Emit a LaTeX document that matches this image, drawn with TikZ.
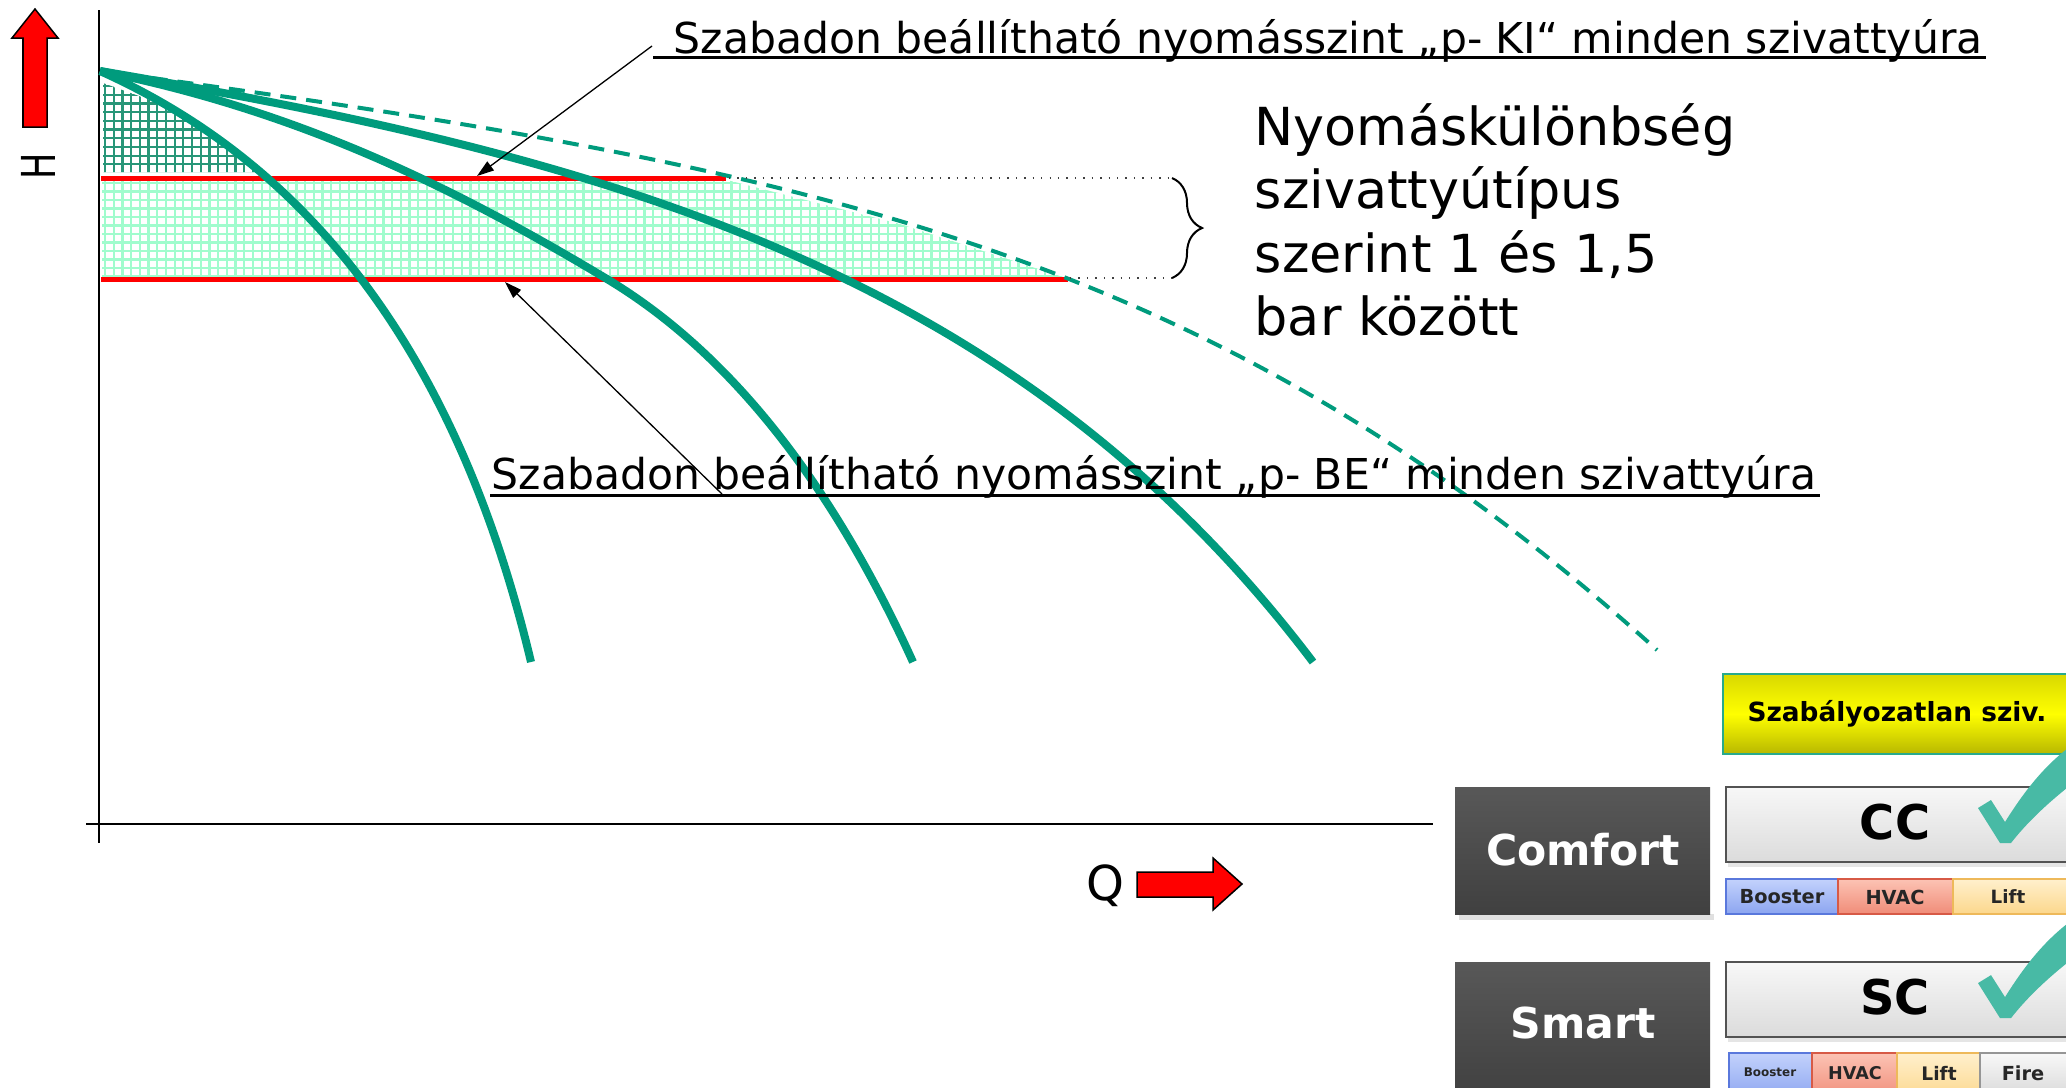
\documentclass[tikz,border=0pt]{standalone}
\usepackage{fontspec}
\setmainfont{DejaVu Sans}
\usetikzlibrary{arrows.meta,decorations.pathreplacing}
\definecolor{pump}{RGB}{0,155,125}
\definecolor{mint}{RGB}{160,252,205}
\definecolor{hatchdark}{RGB}{40,150,120}
\definecolor{checkteal}{RGB}{72,186,165}
\definecolor{boxdark}{RGB}{64,64,64}
\definecolor{boxdarktop}{RGB}{88,88,88}
\definecolor{ybord}{RGB}{40,170,140}
\definecolor{boostA}{RGB}{195,210,252}
\definecolor{boostB}{RGB}{140,165,240}
\definecolor{boostE}{RGB}{90,120,220}
\definecolor{hvacA}{RGB}{252,195,180}
\definecolor{hvacB}{RGB}{240,140,120}
\definecolor{hvacE}{RGB}{215,90,70}
\definecolor{liftA}{RGB}{255,240,205}
\definecolor{liftB}{RGB}{252,215,140}
\definecolor{liftE}{RGB}{238,185,90}
\definecolor{fireA}{RGB}{248,248,248}
\definecolor{fireB}{RGB}{215,215,215}
\definecolor{fireE}{RGB}{150,150,150}
\tikzset{
  pumpcurve/.style={draw=pump, line width=0.08cm},
  envcurve/.style={draw=pump, line width=0.04cm, dash pattern=on 0.16cm off 0.1cm},
  redline/.style={draw=red, line width=0.05cm},
  axisline/.style={draw=black, line width=0.022cm},
  pointer/.style={draw=black, line width=0.013cm, -{Triangle[length=0.17cm,width=0.11cm]}},
  callout/.style={font=\fontsize{12.1}{14}\selectfont, anchor=base west, inner sep=0pt},
  bigtext/.style={font=\fontsize{14.9}{18}\selectfont, anchor=base west, inner sep=0pt},
  underline/.style={draw=black, line width=0.03cm},
  blockarrow/.style={fill=red, draw=black, line width=0.015cm},
  hatchlight/.style={draw=mint, line width=0.022cm},
  hatchdk/.style={draw=hatchdark, line width=0.022cm},
  darkbox/.style={top color=boxdarktop, bottom color=boxdark},
  lightbox/.style={top color=gray!6, bottom color=gray!28, draw=gray!65!black, line width=0.015cm},
  boxlabel/.style={font=\fontsize{12.1}{14}\selectfont\bfseries, text=white, inner sep=0pt},
  typelabel/.style={font=\fontsize{13.6}{16}\selectfont\bfseries, text=black, inner sep=0pt},
  barlabel/.style={text=black!85, inner sep=0pt},
  checkmark/.style={fill=checkteal},
}
\begin{document}
\begin{tikzpicture}[x=0.01cm,y=-0.01cm]
\useasboundingbox (0,0) rectangle (2066,1087);
\clip (0,0) rectangle (2066,1087);
\fill[white] (0,0) rectangle (2066,1087);

% light hatch between the pressure levels
\begin{scope}
  \clip (102,180) -- (727,180) -- (900,224) -- (1066,278) -- (102,278) -- cycle;
  \foreach \i in {0,...,112} \draw[hatchlight] ({105+8.7*\i},170) -- ({105+8.7*\i},290);
  \foreach \j in {0,...,12} \draw[hatchlight] (95,{183+8.5*\j}) -- (1080,{183+8.5*\j});
\end{scope}
% dark hatch
\begin{scope}
  \clip (103,83) -- (150,100) -- (207,133) -- (262,172) -- (103,172) -- cycle;
  \foreach \i in {0,...,19} \draw[hatchdk] ({105+8.7*\i},78) -- ({105+8.7*\i},176);
  \foreach \j in {0,...,11} \draw[hatchdk] (98,{86+8.7*\j}) -- (270,{86+8.7*\j});
\end{scope}

% axes
\draw[axisline] (99,10) -- (99,843);
\draw[axisline] (86,824) -- (1433,824);

% pressure levels
\draw[redline] (101,178) -- (726,178);
\draw[redline] (101,279) -- (1068,279);

% pump curves
\draw[pumpcurve] (100,71) .. controls (250,138.5) and (441,284) .. (531,662);
\draw[pumpcurve] (100,71) .. controls (300,111) and (457,189) .. (607,279) .. controls (757,369) and (853,530) .. (913,662);
\draw[pumpcurve] (100,71) .. controls (600,156) and (1013,266) .. (1313,662);
\draw[envcurve] (100,71) .. controls (800,165) and (1207,245) .. (1657,650);

% dotted extension lines and brace
\coordinate (dtA) at (729,178);
\coordinate (dtB) at (1070,278);
\coordinate (brTop) at (1172,178);
\coordinate (brBot) at (1172,278);
\draw[dotted, line width=0.014cm, black!75] (dtA) -- (brTop);
\draw[dotted, line width=0.014cm, black!75] (dtB) -- (brBot);
\draw[decorate, decoration={brace, amplitude=0.3cm}, line width=0.02cm] (brTop) -- (brBot);

% H and Q arrows
\draw[blockarrow] (35,9) -- (58,38) -- (47,38) -- (47,127) -- (23,127) -- (23,38) -- (12,38) -- cycle;
\node[rotate=90, font=\fontsize{13.3}{16}\selectfont, inner sep=0pt] (hlabel) at (38,166) {\scalebox{0.75}[1]{H}};
\draw[blockarrow] (1137,872) -- (1213,872) -- (1213,858) -- (1242,884) -- (1213,910) -- (1213,897) -- (1137,897) -- cycle;
\node[font=\fontsize{13.7}{16}\selectfont, inner sep=0pt, anchor=base] (qlabel) at (1105,900) {Q};

% callouts
\node[callout] (ki) at (673,53) {Szabadon beállítható nyomásszint „p- KI“ minden szivattyúra};
\coordinate (kiul) at (653,57);
\draw[underline] (kiul) -- ([xshift=0.03cm]kiul -| ki.east);
\coordinate (kistart) at (652,46);
\coordinate (kitip) at (477,176);
\draw[pointer] (kistart) -- (kitip);

\node[callout] (be) at (491,489) {Szabadon beállítható nyomásszint „p- BE“ minden szivattyúra};
\coordinate (beul) at (490,495);
\draw[underline] (beul) -- ([xshift=0.03cm]beul -| be.east);
\coordinate (bestart) at (722,494);
\coordinate (betip) at (505,282);
\draw[pointer] (bestart) -- (betip);

% pressure difference text
\node[bigtext] (ny1) at (1254,145) {Nyomáskülönbség};
\node[bigtext] (ny2) at (1254,208) {szivattyútípus};
\node[bigtext] (ny3) at (1254,272) {szerint 1 és 1,5};
\node[bigtext] (ny4) at (1254,335) {bar között};

% right panel: unregulated pump
\shadedraw[top color=yellow!85!black, bottom color=yellow!72!black, middle color=yellow, draw=ybord, line width=0.02cm] (1723,674) rectangle (2100,754);
\node[font=\fontsize{7.5}{9}\selectfont\bfseries, inner sep=0pt] (ytext) at (1897,714) {Szabályozatlan sziv.};

% Comfort row
\fill[black!12] (1459,914) rectangle (1714,920);
\shade[darkbox] (1455,787) rectangle (1710,914);
\node[boxlabel] (comfort) at (1583,850) {Comfort};
\fill[black!10] (1728,862) rectangle (2100,867);
\shadedraw[lightbox] (1726,787) rectangle (2100,862);
\node[typelabel] (cc) at (1895,822) {CC};
\shadedraw[top color=boostA, bottom color=boostB, draw=boostE, line width=0.012cm] (1726,879) rectangle (1838,914);
\shadedraw[top color=hvacA, bottom color=hvacB, draw=hvacE, line width=0.012cm] (1838,879) rectangle (1953,914);
\shadedraw[top color=liftA, bottom color=liftB, draw=liftE, line width=0.012cm] (1953,879) rectangle (2100,914);
\node[barlabel, font=\fontsize{5.5}{7}\selectfont\bfseries] (cb) at (1782,897) {Booster};
\node[barlabel, font=\fontsize{5.5}{7}\selectfont\bfseries] (ch) at (1895,897) {HVAC};
\node[barlabel, font=\fontsize{5.2}{7}\selectfont\bfseries] (cl) at (2008,897) {Lift};

% Smart row
\shade[darkbox] (1455,962) rectangle (1710,1100);
\node[boxlabel] (smart) at (1583,1023) {Smart};
\fill[black!10] (1728,1037) rectangle (2100,1042);
\shadedraw[lightbox] (1726,962) rectangle (2100,1037);
\node[typelabel] (sc) at (1895,997) {SC};
\shadedraw[top color=boostA, bottom color=boostB, draw=boostE, line width=0.012cm] (1729,1053) rectangle (1812,1100);
\shadedraw[top color=hvacA, bottom color=hvacB, draw=hvacE, line width=0.012cm] (1812,1053) rectangle (1897,1100);
\shadedraw[top color=liftA, bottom color=liftB, draw=liftE, line width=0.012cm] (1897,1053) rectangle (1980,1100);
\shadedraw[top color=fireA, bottom color=fireB, draw=fireE, line width=0.012cm] (1980,1053) rectangle (2100,1100);
\node[barlabel, font=\fontsize{3.4}{5}\selectfont\bfseries] (sb) at (1770,1072) {Booster};
\node[barlabel, font=\fontsize{5.0}{7}\selectfont\bfseries] (sh) at (1855,1073) {HVAC};
\node[barlabel, font=\fontsize{5.3}{7}\selectfont\bfseries] (sl) at (1939,1073) {Lift};
\node[barlabel, font=\fontsize{5.5}{7}\selectfont\bfseries] (sf) at (2023,1073) {Fire};

% check marks
\fill[checkmark] (1978,808) -- (1991,800) -- (2005,822) .. controls (2025,790) and (2045,765) .. (2072,745) -- (2072,784) .. controls (2045,805) and (2025,825) .. (2011,843) -- (2000,843) -- cycle;
\fill[checkmark, yshift=-1.75cm] (1978,808) -- (1991,800) -- (2005,822) .. controls (2025,790) and (2045,765) .. (2072,745) -- (2072,784) .. controls (2045,805) and (2025,825) .. (2011,843) -- (2000,843) -- cycle;
\end{tikzpicture}
\end{document}
